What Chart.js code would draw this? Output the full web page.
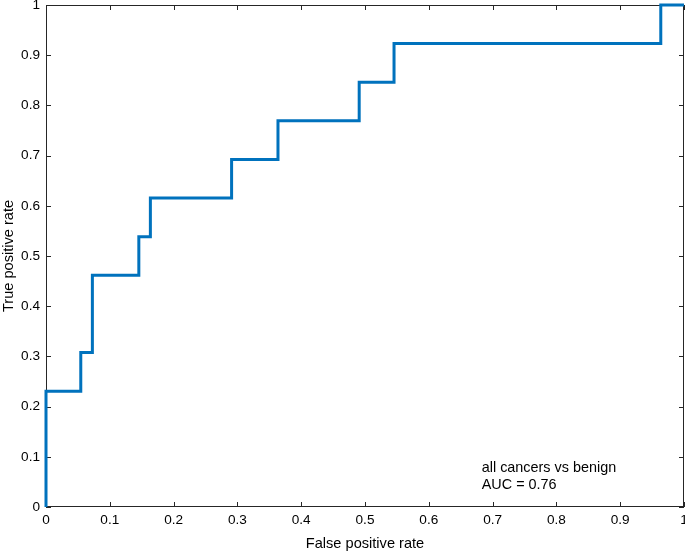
<!DOCTYPE html>
<html>
<head>
<meta charset="utf-8">
<script src="https://cdn.jsdelivr.net/npm/chart.js@4/dist/chart.umd.min.js"></script>
<style>
  html, body { margin: 0; padding: 0; background: #fff; }
  #wrap { width: 685px; height: 557px; }
</style>
</head>
<body>
<div id="wrap"><canvas id="roc" width="685" height="557"></canvas></div>
<script>
// ROC curve corner points (stepped: horizontal first, then vertical)
const fpr = [0, 0, 0.0545, 0.0727, 0.1455, 0.1636, 0.2909, 0.3636, 0.4909, 0.5455, 0.9636, 1];
const tpr = [0, 0.2308, 0.3077, 0.4615, 0.5385, 0.6154, 0.6923, 0.7692, 0.8462, 0.9231, 1, 1];
const tickValues = [0, 0.1, 0.2, 0.3, 0.4, 0.5, 0.6, 0.7, 0.8, 0.9, 1];
const annotationLines = ["all cancers vs benign", "AUC = 0.76"];

const FONT = "'Liberation Sans', Arial, Helvetica, sans-serif";
const AXIS_COLOR = "#262626";

// box around plot + inward tick marks, matlab style
const boxPlugin = {
  id: "box",
  beforeDatasetsDraw(chart) {
    const { ctx, chartArea: a, scales } = chart;
    ctx.save();
    ctx.strokeStyle = AXIS_COLOR;
    ctx.lineWidth = 1;
    ctx.strokeRect(a.left + 0.5, a.top + 0.5, a.right - a.left - 1, a.bottom - a.top - 1);
    const len = 5;
    ctx.beginPath();
    tickValues.forEach(v => {
      const x = Math.round(scales.x.getPixelForValue(v)) + 0.5;
      ctx.moveTo(x, a.bottom); ctx.lineTo(x, a.bottom - len);
      ctx.moveTo(x, a.top); ctx.lineTo(x, a.top + len);
      const y = Math.round(scales.y.getPixelForValue(v)) + 0.5;
      ctx.moveTo(a.left, y); ctx.lineTo(a.left + len, y);
      ctx.moveTo(a.right, y); ctx.lineTo(a.right - len, y);
    });
    ctx.stroke();

    ctx.fillStyle = "#000";
    ctx.font = "14.4px " + FONT;
    ctx.textBaseline = "middle";
    ctx.textAlign = "left";
    const tx = scales.x.getPixelForValue(0.683);
    const ty = scales.y.getPixelForValue(0.078);
    annotationLines.forEach((t, i) => ctx.fillText(t, tx, ty + i * 17));
    ctx.restore();
  }
};

const setTicks = scale => {
  scale.ticks = tickValues.map(v => ({ value: v }));
};

new Chart(document.getElementById("roc"), {
  type: "line",
  data: {
    datasets: [{
      data: fpr.map((x, i) => ({ x: x, y: tpr[i] })),
      borderColor: "#0072BD",
      borderWidth: 3,
      pointRadius: 0,
      stepped: "before",
      clip: false,
      fill: false
    }]
  },
  options: {
    responsive: false,
    animation: false,
    layout: { padding: { top: 5, right: 1, left: 0, bottom: 0 } },
    plugins: { legend: { display: false }, tooltip: { enabled: false } },
    scales: {
      x: {
        type: "linear",
        min: 0, max: 1,
        afterBuildTicks: setTicks,
        afterFit: s => { s.height = 50; s.paddingLeft = 0; s.paddingRight = 0; },
        grid: { display: false, drawTicks: false },
        border: { display: false },
        ticks: { color: "#000", padding: 5, font: { family: FONT, size: 13.6 }, maxRotation: 0, callback: v => String(v) },
        title: { display: true, text: "False positive rate", color: "#000", padding: { top: 4 }, font: { family: FONT, size: 14.6 } }
      },
      y: {
        type: "linear",
        min: 0, max: 1,
        afterBuildTicks: setTicks,
        afterFit: s => { s.width = 46; s.paddingTop = 0; s.paddingBottom = 0; },
        grid: { display: false, drawTicks: false },
        border: { display: false },
        ticks: { color: "#000", padding: 6, font: { family: FONT, size: 13.6 }, callback: v => String(v) },
        title: { display: true, text: "True positive rate", color: "#000", padding: { top: 0, bottom: 0 }, font: { family: FONT, size: 14.6 } }
      }
    }
  },
  plugins: [boxPlugin]
});
</script>
</body>
</html>
